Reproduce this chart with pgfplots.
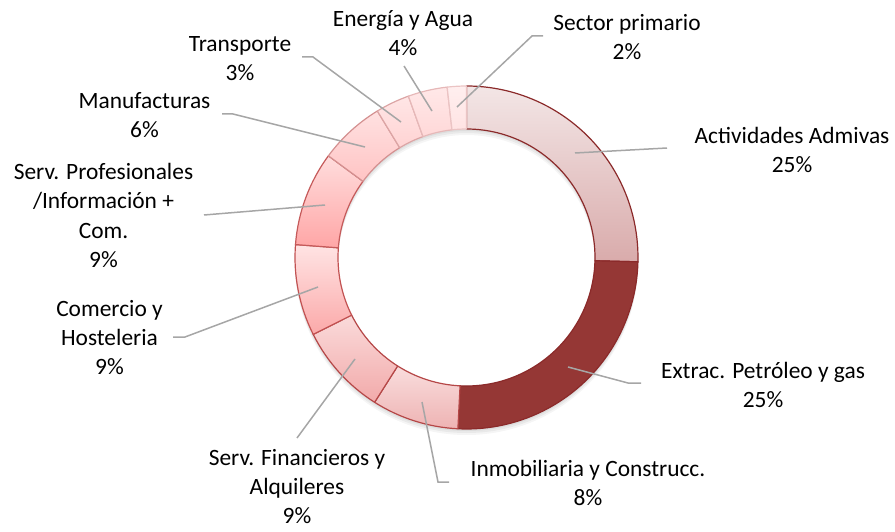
\documentclass[border=0pt]{standalone}
\usepackage{pgfplots}
\pgfplotsset{compat=1.18}
\usepackage{pgfplotstable}
\usepackage{fontspec}
\setmainfont{Carlito}

% fill gradients (top / bottom) and outlines per segment
\definecolor{t0}{HTML}{F3E6E6}\definecolor{b0}{HTML}{D9ABAB}\definecolor{l0}{HTML}{8B2A2A}
\definecolor{t1}{HTML}{953735}\definecolor{b1}{HTML}{953735}\definecolor{l1}{HTML}{8B2A2A}
\definecolor{t2}{HTML}{F9DDDD}\definecolor{b2}{HTML}{EEB3B3}\definecolor{l2}{HTML}{B54747}
\definecolor{t3}{HTML}{FADADA}\definecolor{b3}{HTML}{F2AAAA}\definecolor{l3}{HTML}{B54747}
\definecolor{t4}{HTML}{FFE4E4}\definecolor{b4}{HTML}{FBA9A9}\definecolor{l4}{HTML}{C25252}
\definecolor{t5}{HTML}{FFDDDD}\definecolor{b5}{HTML}{FFA6A6}\definecolor{l5}{HTML}{C55A5A}
\definecolor{t6}{HTML}{FFE1E1}\definecolor{b6}{HTML}{FFC4C4}\definecolor{l6}{HTML}{D49090}
\definecolor{t7}{HTML}{FFE6E6}\definecolor{b7}{HTML}{FFD3D3}\definecolor{l7}{HTML}{DCA5A5}
\definecolor{t8}{HTML}{FFE8E8}\definecolor{b8}{HTML}{FFD8D8}\definecolor{l8}{HTML}{E6B8B8}
\definecolor{t9}{HTML}{FFEFEF}\definecolor{b9}{HTML}{FFE3E3}\definecolor{l9}{HTML}{EBC4C4}
\definecolor{leader}{HTML}{A6A6A6}

% shares in percent, clockwise from 12 o'clock
\pgfplotstableread{
pct
25.4
25.4
8.2
8.6
8.6
8.9
6.2
3.2
3.7
1.8
}\shares

\def\cx{466.5}
\def\cy{268.5}
\def\Ro{85.75pt}
\def\Ri{64.25pt}

\tikzset{lbl/.style={font=\fontsize{11.7}{14.5}\selectfont, inner sep=0pt, anchor=base, text=black}}

\begin{document}
\begin{tikzpicture}
\begin{axis}[x=0.5pt, y=0.5pt, xmin=0, xmax=895, ymin=0, ymax=526,
  hide axis, clip=false, scale only axis]

% soft shadow
\fill[black, opacity=0.05, even odd rule] (axis cs:\cx,266.5) circle[radius=\Ro] (axis cs:\cx,266.5) circle[radius=\Ri];
\fill[black, opacity=0.05, even odd rule] (axis cs:\cx,264.5) circle[radius=\Ro] (axis cs:\cx,264.5) circle[radius=\Ri];
\fill[black, opacity=0.04, even odd rule] (axis cs:\cx,262.5) circle[radius=\Ro] (axis cs:\cx,262.5) circle[radius=\Ri];

\def\cum{0}
\pgfplotsforeachungrouped \i in {0,...,9}{%
  \pgfplotstablegetelem{\i}{pct}\of\shares
  \pgfmathsetmacro\a{90-3.6*\cum}%
  \pgfmathsetmacro\cum{\cum+\pgfplotsretval}%
  \pgfmathsetmacro\b{90-3.6*\cum}%
  \edef\seg{\noexpand\path[top color=t\i, bottom color=b\i, draw=l\i, line width=0.6pt, line join=round]
    ([shift={(\a:\Ro)}]axis cs:\cx,\cy) arc[start angle=\a, end angle=\b, radius=\Ro]
    -- ([shift={(\b:\Ri)}]axis cs:\cx,\cy) arc[start angle=\b, end angle=\a, radius=\Ri] -- cycle;}%
  \seg
}

% leader lines
\draw[leader, line width=0.75pt] (axis cs:543,490) -- (axis cs:532,490) -- (axis cs:457,419);
\draw[leader, line width=0.75pt] (axis cs:404,460) -- (axis cs:432,415);
\draw[leader, line width=0.75pt] (axis cs:302,469) -- (axis cs:313,469) -- (axis cs:401,404);
\draw[leader, line width=0.75pt] (axis cs:222,412) -- (axis cs:233,412) -- (axis cs:365,379);
\draw[leader, line width=0.75pt] (axis cs:204,311) -- (axis cs:325,321);
\draw[leader, line width=0.75pt] (axis cs:173,189) -- (axis cs:185,189) -- (axis cs:318,239);
\draw[leader, line width=0.75pt] (axis cs:297,88) -- (axis cs:355,167);
\draw[leader, line width=0.75pt] (axis cs:449,44) -- (axis cs:438,44) -- (axis cs:422,124);
\draw[leader, line width=0.75pt] (axis cs:641,143) -- (axis cs:628,143) -- (axis cs:568,159);
\draw[leader, line width=0.75pt] (axis cs:667,378) -- (axis cs:575,373);

% labels
\node[lbl] at (axis cs:627,495.5) {\begin{tabular}[t]{@{}c@{}}Sector primario\\2\%\end{tabular}};
\node[lbl] at (axis cs:403,499.5) {\begin{tabular}[t]{@{}c@{}}Energía y Agua\\4\%\end{tabular}};
\node[lbl] at (axis cs:240,474.3) {\begin{tabular}[t]{@{}c@{}}Transporte\\3\%\end{tabular}};
\node[lbl] at (axis cs:144.5,417.7) {\begin{tabular}[t]{@{}c@{}}Manufacturas\\6\%\end{tabular}};
\node[lbl] at (axis cs:792,382.5) {\begin{tabular}[t]{@{}c@{}}Actividades Admivas\\25\%\end{tabular}};
\node[lbl] at (axis cs:103.5,346) {\begin{tabular}[t]{@{}c@{}}Serv. Profesionales\\/Información +\\Com.\\9\%\end{tabular}};
\node[lbl] at (axis cs:109.5,209.3) {\begin{tabular}[t]{@{}c@{}}Comercio y\\Hosteleria\\9\%\end{tabular}};
\node[lbl] at (axis cs:297,61) {\begin{tabular}[t]{@{}c@{}}Serv. Financieros y\\Alquileres\\9\%\end{tabular}};
\node[lbl] at (axis cs:588,50) {\begin{tabular}[t]{@{}c@{}}Inmobiliaria y Construcc.\\8\%\end{tabular}};
\node[lbl] at (axis cs:763,148) {\begin{tabular}[t]{@{}c@{}}Extrac. Petróleo y gas\\25\%\end{tabular}};

\path (axis cs:0,0) rectangle (axis cs:895,526);
\end{axis}
\end{tikzpicture}
\end{document}
